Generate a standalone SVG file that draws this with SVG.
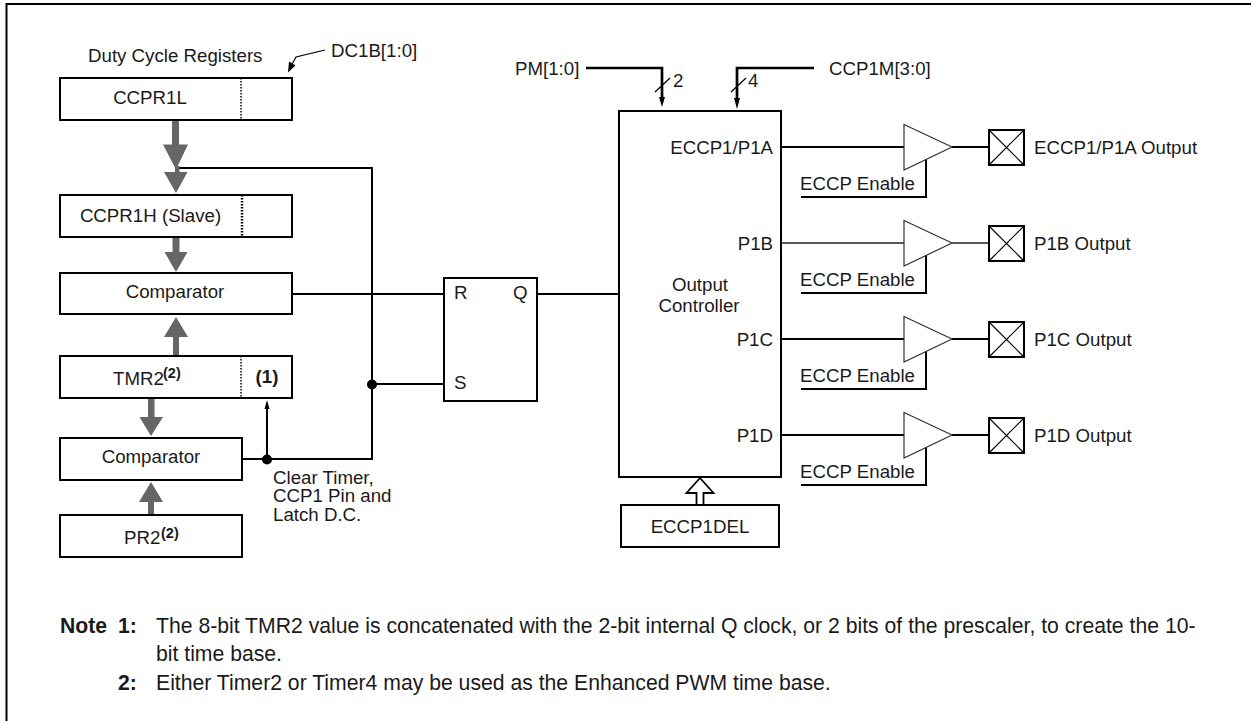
<svg xmlns="http://www.w3.org/2000/svg" width="1251" height="721" viewBox="0 0 1251 721">
<style>
text{font-family:"Liberation Sans",Arial,sans-serif;font-size:18.700px;fill:#1a1a1a}
.m{text-anchor:middle}.e{text-anchor:end}
.n{font-size:21.200px}
.b{fill:#fff;stroke:#000;stroke-width:2}
.l{fill:none;stroke:#000;stroke-width:2}
.h{fill:none;stroke:#000;stroke-width:2.700}
.f{fill:none;stroke:#222;stroke-width:1.300}
.t{fill:none;stroke:#000;stroke-width:1.200}
.g{fill:#666;stroke:none}
.bold{font-weight:bold}
.sup{font-weight:bold;font-size:14.500px}
.amp{fill:#fff;stroke:#333;stroke-width:1.200}
.dot{stroke:#000;stroke-dasharray:1.500 1.500}
</style>
<rect width="1251" height="721" fill="#fff"/>
<path d="M6.500 721V4H1251" fill="none" stroke="#000" stroke-width="2"/>

<g id="connectors">
<polyline class="l" points="176,168 372,168 372,459 242,459"/>
<line class="l" x1="292" y1="294" x2="444" y2="294"/>
<line class="l" x1="372" y1="384" x2="444" y2="384"/>
<line class="l" x1="267" y1="459" x2="267" y2="406"/>
<path d="M267 400l2.500 9h-5z" fill="#000"/>
<circle cx="372" cy="384.500" r="5"/>
<circle cx="267" cy="459.500" r="5"/>
<line class="l" x1="537" y1="294" x2="619" y2="294"/>
<polyline class="t" points="325,50 296,57 291,66"/>
<path d="M288 72.500l1-11 6.500 4z" fill="#000"/>
<path d="M172 120h7v24.500h9l-12 25-13-25h9z" class="g"/>
<path d="M175 166h4.500v6h8l-11.500 21-12-21h11z" class="g"/>
<path d="M172.500 237h7v15h8l-11.500 20-11.500-20h8z" class="g"/>
<path d="M173 356v-19h-9l12-20 12 20h-9v19z" class="g"/>
<path d="M148 398h6.500v19h8.500l-12 19-11.500-19h8.500z" class="g"/>
<path d="M148 515v-13h-9l12-20 12 20h-9v13z" class="g"/>
<polyline class="h" points="586,68 662,68 662,100"/>
<polyline class="h" points="814,68 737,68 737,102"/>
<path d="M662 107l-3-10h6z" fill="#000"/><path d="M737 109l-3-11h6z" fill="#000"/>
<line class="t" x1="655" y1="92" x2="670" y2="78"/>
<line class="t" x1="731" y1="92" x2="746" y2="78"/>
<line class="l" x1="781" y1="147" x2="904" y2="147"/>
<line class="f" x1="781" y1="243" x2="904" y2="243"/>
<line class="l" x1="781" y1="339" x2="904" y2="339"/>
<line class="l" x1="781" y1="435" x2="904" y2="435"/>
<line class="l" x1="952" y1="147" x2="989" y2="147"/>
<line class="f" x1="952" y1="243" x2="989" y2="243"/>
<line class="l" x1="952" y1="339" x2="989" y2="339"/>
<line class="l" x1="952" y1="435" x2="989" y2="435"/>
<polyline class="l" points="801,197 926,197 926,157"/>
<polyline class="l" points="801,293 926,293 926,253"/>
<polyline class="l" points="801,389 926,389 926,349"/>
<polyline class="l" points="801,485 926,485 926,445"/>
<path d="M696.500 505V493H686.500L700 478 713.500 493H703.500V505" fill="#fff" stroke="#000" stroke-width="1.800"/>
</g>

<g id="ccpr1l"><rect class="b" x="60" y="78" width="232" height="42"/><line class="dot" x1="241" y1="78" x2="241" y2="120" stroke-width="1.500"/><text class="m" x="150" y="104">CCPR1L</text></g>
<g id="ccpr1h"><rect class="b" x="60" y="195" width="232" height="42"/><line class="dot" x1="242" y1="195" x2="242" y2="237" stroke-width="2.500"/><text class="m" x="150.500" y="222">CCPR1H (Slave)</text></g>
<g id="comparator1"><rect class="b" x="60" y="273" width="232" height="41"/><text class="m" x="175" y="298">Comparator</text></g>
<g id="tmr2"><rect class="b" x="60" y="356" width="232" height="42"/><line class="dot" x1="241" y1="356" x2="241" y2="398" stroke-width="1.500"/><text x="113" y="385">TMR2</text><text class="sup" x="163" y="378">(2)</text><text class="m bold" x="267" y="383">(1)</text></g>
<g id="comparator2"><rect class="b" x="60" y="438" width="182" height="42"/><text class="m" x="151" y="463">Comparator</text></g>
<g id="pr2"><rect class="b" x="60" y="515" width="182" height="42"/><text x="124" y="544">PR2</text><text class="sup" x="161" y="538">(2)</text></g>
<g id="srlatch"><rect class="b" x="444" y="278" width="93" height="123"/><text x="454" y="299">R</text><text x="513" y="299">Q</text><text x="454" y="389">S</text></g>
<g id="output-controller"><rect class="b" x="619" y="111" width="162" height="366"/><text class="e" x="773" y="154">ECCP1/P1A</text><text class="e" x="773" y="250">P1B</text><text class="m" x="700" y="291">Output</text><text class="m" x="699" y="312">Controller</text><text class="e" x="773" y="346">P1C</text><text class="e" x="773" y="442">P1D</text></g>
<g id="eccp1del"><rect class="b" x="621" y="505" width="158" height="42"/><text class="m" x="700" y="533">ECCP1DEL</text></g>
<g id="buf-a"><path class="amp" d="M904 124.500L952 147 904 170Z"/><text x="800" y="190">ECCP Enable</text></g>
<g id="buf-b"><path class="amp" d="M904 220.500L952 243 904 266Z"/><text x="800" y="286">ECCP Enable</text></g>
<g id="buf-c"><path class="amp" d="M904 316.500L952 339 904 362Z"/><text x="800" y="382">ECCP Enable</text></g>
<g id="buf-d"><path class="amp" d="M904 412.500L952 435 904 458Z"/><text x="800" y="478">ECCP Enable</text></g>
<g id="pin-a"><rect class="b" x="989" y="130" width="35" height="35"/><path class="t" d="M989 130L1024 165M1024 130L989 165"/><text x="1034" y="154">ECCP1/P1A Output</text></g>
<g id="pin-b"><rect class="b" x="989" y="226" width="35" height="35"/><path class="t" d="M989 226L1024 261M1024 226L989 261"/><text x="1034" y="250">P1B Output</text></g>
<g id="pin-c"><rect class="b" x="989" y="322" width="35" height="35"/><path class="t" d="M989 322L1024 357M1024 322L989 357"/><text x="1034" y="346">P1C Output</text></g>
<g id="pin-d"><rect class="b" x="989" y="418" width="35" height="35"/><path class="t" d="M989 418L1024 453M1024 418L989 453"/><text x="1034" y="442">P1D Output</text></g>
<text x="88" y="62">Duty Cycle Registers</text>
<text x="331" y="57">DC1B[1:0]</text>
<text x="273" y="484">Clear Timer,</text><text x="273" y="502">CCP1 Pin and</text><text x="273" y="521">Latch D.C.</text>
<text x="515" y="75">PM[1:0]</text><text x="829" y="75">CCP1M[3:0]</text>
<text x="673" y="87">2</text><text x="748" y="87">4</text>
<text class="n bold" x="60" y="633">Note</text><text class="n bold" x="118" y="633">1:</text>
<text class="n" x="156" y="633">The 8-bit TMR2 value is concatenated with the 2-bit internal Q clock, or 2 bits of the prescaler, to create the 10-</text>
<text class="n" x="156" y="661">bit time base.</text>
<text class="n bold" x="118" y="690">2:</text><text class="n" x="156" y="690">Either Timer2 or Timer4 may be used as the Enhanced PWM time base.</text>
</svg>
